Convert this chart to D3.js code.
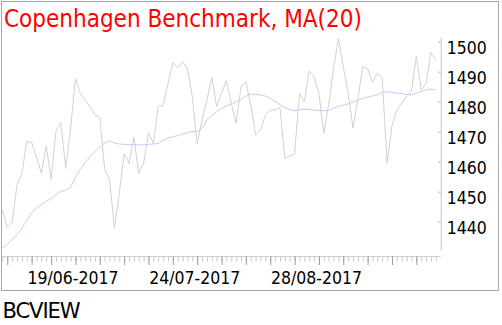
<!DOCTYPE html>
<html>
<head>
<meta charset="utf-8">
<script src="https://cdn.jsdelivr.net/npm/d3@7"></script>
<style>
  body { margin: 0; background: #fff; }
  svg { display: block; }
  text { font-family: "DejaVu Sans Condensed", "DejaVu Sans", sans-serif; font-stretch: condensed; }
</style>
</head>
<body>
<svg id="chart" width="502" height="325"></svg>
<script>
// trading days shown (Copenhagen closed 5 June 2017)
const startDate = "2017-05-26";
const endDate = "2017-09-29";
const holidays = ["2017-06-05"];
const labelDates = ["2017-06-19", "2017-07-24", "2017-08-28"];
const yTicks = [1440, 1450, 1460, 1470, 1480, 1490, 1500];

// index close
const closeValues = [
  1443.9, 1438.1, 1439.7, 1452.2, 1456.1, 1466.7, 1466.5, 1461.7, 1456.1, 1465.2,
  1454.1, 1470.0, 1473.0, 1457.8, 1471.0, 1487.8, 1482.8, 1480.6, 1478.3, 1475.6,
  1474.8, 1457.5, 1453.9, 1438.1, 1449.4, 1462.8, 1459.5, 1468.1, 1456.1, 1459.5,
  1469.7, 1466.1, 1478.6, 1478.6, 1486.0, 1493.0, 1491.3, 1493.3, 1491.1, 1481.7,
  1465.9, 1474.0, 1480.6, 1488.1, 1478.3, 1482.8, 1487.0, 1479.5, 1472.8, 1484.8,
  1486.7, 1478.9, 1469.0, 1470.5, 1475.6, 1477.2, 1477.2, 1478.1, 1461.1, 1461.9,
  1462.6, 1482.8, 1480.0, 1490.3, 1488.3, 1482.8, 1469.5, 1479.0, 1491.0, 1501.1,
  1491.7, 1482.8, 1471.2, 1481.1, 1491.7, 1491.0, 1486.5, 1489.5, 1488.0, 1459.5,
  1472.0, 1477.2, 1479.5, 1481.7, 1483.3, 1495.2, 1483.9, 1486.1, 1496.3, 1493.9
];

// MA(20)
const maValues = [
  1431.2, 1432.5, 1434.0, 1435.7, 1437.7, 1440.6, 1442.9, 1444.7, 1445.6, 1446.8,
  1447.7, 1449.0, 1450.1, 1450.5, 1451.5, 1454.8, 1457.4, 1459.7, 1461.7, 1463.3,
  1464.9, 1466.2, 1467.0, 1466.2, 1465.9, 1465.8, 1465.7, 1465.7, 1465.6, 1465.6,
  1465.8, 1465.9, 1466.1, 1467.1, 1467.9, 1468.3, 1468.7, 1469.2, 1469.7, 1470.1,
  1470.1, 1471.2, 1473.9, 1475.3, 1476.7, 1477.7, 1478.6, 1479.3, 1480.0, 1480.8,
  1481.8, 1482.6, 1482.4, 1482.3, 1481.9, 1481.1, 1480.1, 1479.0, 1478.1, 1477.4,
  1477.0, 1477.3, 1477.5, 1477.4, 1477.2, 1477.1, 1477.0, 1477.1, 1477.8, 1478.5,
  1478.9, 1479.3, 1479.9, 1480.5, 1481.1, 1481.6, 1481.9, 1482.3, 1483.1, 1483.3,
  1483.1, 1482.9, 1482.7, 1482.4, 1482.3, 1482.9, 1483.4, 1483.9, 1484.2, 1483.9
];

const width = 502;
const height = 325;
const axisX = 440.7;      // y axis line sits here
const axisY = 256.5;      // date ticks hang from here

const parseDay = d3.timeParse("%Y-%m-%d");
const fmtDay = d3.timeFormat("%Y-%m-%d");
const fmtLabel = d3.timeFormat("%d/%m-%Y");

let dates = d3.timeDay.range(parseDay(startDate), d3.timeDay.offset(parseDay(endDate), 1))
  .filter(d => d.getDay() % 6 !== 0 && !holidays.includes(fmtDay(d)))
  .map(fmtDay);

// first trading day of each week gets the longer tick
let weekStarts = dates.filter((d, i) => i > 0 &&
  +d3.timeMonday.floor(parseDay(d)) !== +d3.timeMonday.floor(parseDay(dates[i - 1])));

let data = dates.map((d, i) => ({date: d, close: closeValues[i], ma: maValues[i]}));

let svg = d3.select("#chart");

let x = d3.scalePoint()
  .domain(dates)
  .range([2.4, 435.8]);

let y = d3.scaleLinear()
  .domain([1430.57, 1501.57])
  .range([250, 37]);

// outer frame
svg.append("rect")
  .attr("x", 1.5).attr("y", 1.5)
  .attr("width", 497).attr("height", 289)
  .attr("fill", "none")
  .attr("stroke", "#a8a8a8");

// title
svg.append("text")
  .attr("x", 4).attr("y", 27)
  .attr("fill", "#ff0000")
  .style("font-size", "24px")
  .text("Copenhagen Benchmark, MA(20)");

// lines
let closeLine = d3.line().x(d => x(d.date)).y(d => y(d.close));
let maLine = d3.line().x(d => x(d.date)).y(d => y(d.ma));

svg.append("path")
  .datum(data)
  .attr("fill", "none")
  .attr("stroke", "#d2d2d2")
  .attr("stroke-width", 1)
  .attr("d", closeLine);

svg.append("path")
  .datum(data)
  .attr("fill", "none")
  .attr("stroke", "#c8c8ff")
  .attr("stroke-width", 1)
  .attr("d", maLine);

// y axis on the right, ticks pointing left
let yAxis = svg.append("g")
  .attr("transform", "translate(" + axisX + ",0)")
  .call(d3.axisRight(y).tickValues(yTicks).tickFormat(d3.format("d"))
    .tickSizeInner(-2.5).tickSizeOuter(0).tickPadding(6));
yAxis.select(".domain").attr("stroke", "#c8c8c8");
yAxis.selectAll(".tick line").attr("stroke", "#b0b0b0");
yAxis.selectAll(".tick text")
  .attr("dy", "0.67em")
  .attr("fill", "#000")
  .style("font-size", "17.5px")
  .style("font-family", "'DejaVu Sans Condensed', 'DejaVu Sans', sans-serif");

// date axis: baseline
svg.append("line")
  .attr("x1", 2).attr("x2", axisX)
  .attr("y1", axisY).attr("y2", axisY)
  .attr("stroke", "#d0d0d0");

// daily ticks
let dayAxis = svg.append("g")
  .attr("transform", "translate(0," + axisY + ")")
  .call(d3.axisBottom(x).tickSizeInner(5).tickSizeOuter(0).tickFormat(""));
dayAxis.select(".domain").remove();
dayAxis.selectAll(".tick line").attr("stroke", "#c8c8c8");

// week ticks
let weekAxis = svg.append("g")
  .attr("transform", "translate(0," + axisY + ")")
  .call(d3.axisBottom(x).tickValues(weekStarts).tickSizeInner(8.5).tickSizeOuter(0).tickFormat(""));
weekAxis.select(".domain").remove();
weekAxis.selectAll(".tick line").attr("stroke", "#9a9a9a");

// date labels
let labelAxis = svg.append("g")
  .attr("transform", "translate(0," + axisY + ")")
  .call(d3.axisBottom(x).tickValues(labelDates).tickSize(0).tickPadding(0)
    .tickFormat(d => fmtLabel(parseDay(d))));
labelAxis.select(".domain").remove();
labelAxis.selectAll(".tick text")
  .attr("dx", -3)
  .attr("dy", 0)
  .attr("y", 27)
  .attr("fill", "#000")
  .style("font-size", "17.5px")
  .style("font-family", "'DejaVu Sans Condensed', 'DejaVu Sans', sans-serif");

// source
svg.append("text")
  .attr("x", 2.5).attr("y", 318)
  .attr("fill", "#000")
  .attr("textLength", 77)
  .attr("lengthAdjust", "spacingAndGlyphs")
  .style("font-size", "21px")
  .style("letter-spacing", "-1px")
  .text("BCVIEW");
</script>
</body>
</html>
